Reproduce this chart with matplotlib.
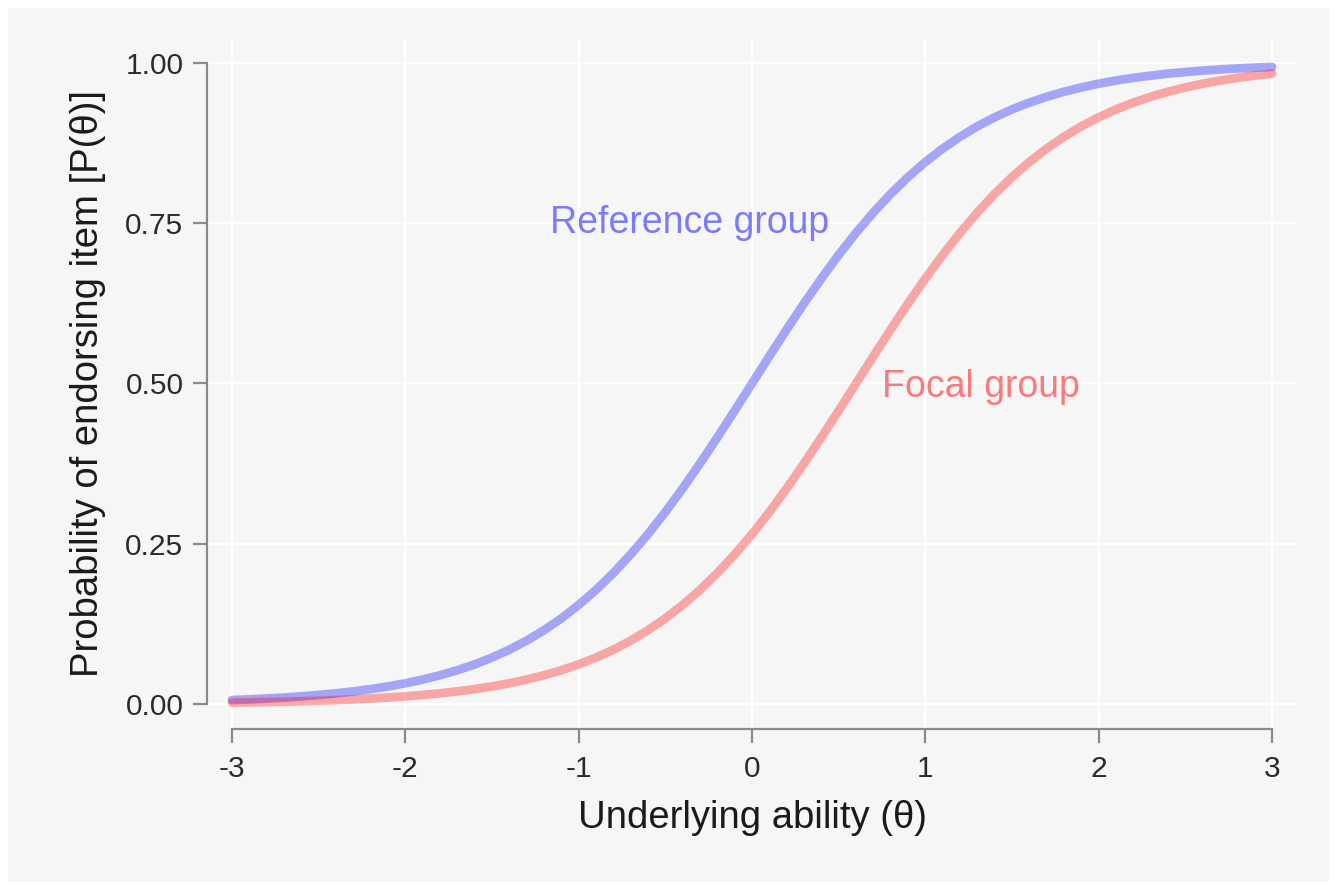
import matplotlib
matplotlib.use("Agg")
import matplotlib.pyplot as plt
from matplotlib.patches import Rectangle

plt.rcParams['font.family'] = ['Liberation Sans', 'DejaVu Sans']

# ability grid and item characteristic curves
theta = [-3.0, -2.9, -2.8, -2.7, -2.6, -2.5, -2.4, -2.3, -2.2, -2.1,
         -2.0, -1.9, -1.8, -1.7, -1.6, -1.5, -1.4, -1.3, -1.2, -1.1,
         -1.0, -0.9, -0.8, -0.7, -0.6, -0.5, -0.4, -0.3, -0.2, -0.1,
         0.0, 0.1, 0.2, 0.3, 0.4, 0.5, 0.6, 0.7, 0.8, 0.9,
         1.0, 1.1, 1.2, 1.3, 1.4, 1.5, 1.6, 1.7, 1.8, 1.9,
         2.0, 2.1, 2.2, 2.3, 2.4, 2.5, 2.6, 2.7, 2.8, 2.9, 3.0]
p_reference = [0.0061, 0.0072, 0.0085, 0.0101, 0.0119, 0.0141, 0.0166, 0.0197, 0.0232, 0.0274,
               0.0323, 0.0381, 0.0448, 0.0527, 0.0618, 0.0724, 0.0847, 0.0988, 0.1151, 0.1335,
               0.1545, 0.1780, 0.2042, 0.2333, 0.2650, 0.2994, 0.3363, 0.3752, 0.4158, 0.4576,
               0.5000, 0.5424, 0.5842, 0.6248, 0.6637, 0.7006, 0.7350, 0.7667, 0.7958, 0.8220,
               0.8455, 0.8665, 0.8849, 0.9012, 0.9153, 0.9276, 0.9382, 0.9473, 0.9552, 0.9619,
               0.9677, 0.9726, 0.9768, 0.9803, 0.9834, 0.9859, 0.9881, 0.9899, 0.9915, 0.9928, 0.9939]
p_focal = [0.0022, 0.0026, 0.0031, 0.0036, 0.0043, 0.0051, 0.0061, 0.0072, 0.0085, 0.0101,
           0.0119, 0.0141, 0.0166, 0.0197, 0.0232, 0.0274, 0.0323, 0.0381, 0.0448, 0.0527,
           0.0618, 0.0724, 0.0847, 0.0988, 0.1151, 0.1335, 0.1545, 0.1780, 0.2042, 0.2333,
           0.2650, 0.2994, 0.3363, 0.3752, 0.4158, 0.4576, 0.5000, 0.5424, 0.5842, 0.6248,
           0.6637, 0.7006, 0.7350, 0.7667, 0.7958, 0.8220, 0.8455, 0.8665, 0.8849, 0.9012,
           0.9153, 0.9276, 0.9382, 0.9473, 0.9552, 0.9619, 0.9677, 0.9726, 0.9768, 0.9803, 0.9834]

x_ticks = [-3, -2, -1, 0, 1, 2, 3]
x_ticklabels = ['-3', '-2', '-1', '0', '1', '2', '3']
y_ticks = [0.0, 0.25, 0.5, 0.75, 1.0]
y_ticklabels = ['0.00', '0.25', '0.50', '0.75', '1.00']

W, H = 1336, 884
fig = plt.figure(figsize=(W / 100, H / 100), dpi=100, facecolor='white')
fig.patches.append(Rectangle((8 / W, 2 / H), (1329 - 8) / W, (876 - 2) / H,
                             transform=fig.transFigure, facecolor='#f6f6f6',
                             edgecolor='none', zorder=-10))

ax = fig.add_axes([207 / W, (H - 729) / H, 1090 / W, 691 / H])
ax.set_facecolor('none')

ax.plot(theta, p_reference, color='blue', alpha=0.33, lw=6.3, solid_capstyle='round',
        solid_joinstyle='round', zorder=3)
ax.plot(theta, p_focal, color='red', alpha=0.33, lw=6.3, solid_capstyle='round',
        solid_joinstyle='round', zorder=3)

ax.text(-0.36, 0.75, 'Reference group', color='blue', alpha=0.5, fontsize=27,
        ha='center', va='center')
ax.text(1.32, 0.495, 'Focal group', color='red', alpha=0.5, fontsize=27,
        ha='center', va='center')

ax.set_xlim(-3.144, 3.144)
ax.set_ylim(-0.039, 1.039)
ax.set_xticks(x_ticks)
ax.set_xticklabels(x_ticklabels)
ax.set_yticks(y_ticks)
ax.set_yticklabels(y_ticklabels)

ax.grid(True, color='white', lw=1.6, zorder=0)
ax.set_axisbelow(True)

for side in ['top', 'right']:
    ax.spines[side].set_visible(False)
ax.spines['left'].set_bounds(0, 1)
ax.spines['bottom'].set_bounds(-3, 3)
for side in ['left', 'bottom']:
    ax.spines[side].set_color('#8a8a8a')
    ax.spines[side].set_linewidth(1.6)

ax.tick_params(axis='both', length=10, width=1.6, color='#8a8a8a',
               labelsize=21.5, labelcolor='#2a2a2a')
ax.tick_params(axis='y', pad=7)
ax.tick_params(axis='x', pad=9)

ax.set_xlabel('Underlying ability (\u03b8)', fontsize=27.5, color='#1a1a1a', labelpad=12)
ax.set_ylabel('Probability of endorsing item [P(\u03b8)]', fontsize=27.5, color='#1a1a1a',
              labelpad=14)

plt.savefig('out.png', dpi=100, facecolor=fig.get_facecolor())
